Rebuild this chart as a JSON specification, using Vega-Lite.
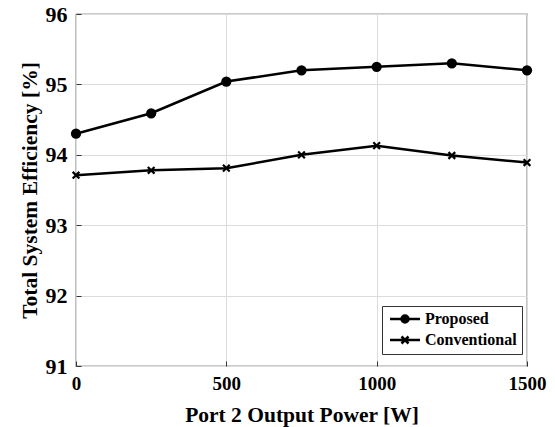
{
  "$schema": "https://vega.github.io/schema/vega-lite/v6.json",
  "width": 451,
  "height": 352,
  "autosize": "none",
  "padding": {"left": 76, "top": 14, "right": 28, "bottom": 61},
  "background": "white",
  "config": {
    "font": "Liberation Serif",
    "view": {"stroke": "#333333", "strokeWidth": 1.2},
    "axis": {
      "grid": true,
      "gridColor": "#dcdcdc",
      "gridWidth": 1,
      "domain": false,
      "ticks": true,
      "tickSize": -5,
      "tickColor": "#333333",
      "tickWidth": 1,
      "labelFont": "Liberation Serif",
      "labelFontWeight": "bold",
      "labelColor": "black",
      "titleFont": "Liberation Serif",
      "titleFontWeight": "bold",
      "titleColor": "black",
      "titleFontSize": 21.5
    }
  },
  "data": {
    "values": [
      {"power": 0, "eff": 94.30, "series": "Proposed"},
      {"power": 250, "eff": 94.59, "series": "Proposed"},
      {"power": 500, "eff": 95.04, "series": "Proposed"},
      {"power": 750, "eff": 95.20, "series": "Proposed"},
      {"power": 1000, "eff": 95.25, "series": "Proposed"},
      {"power": 1250, "eff": 95.30, "series": "Proposed"},
      {"power": 1500, "eff": 95.20, "series": "Proposed"},
      {"power": 0, "eff": 93.71, "series": "Conventional"},
      {"power": 250, "eff": 93.78, "series": "Conventional"},
      {"power": 500, "eff": 93.81, "series": "Conventional"},
      {"power": 750, "eff": 94.00, "series": "Conventional"},
      {"power": 1000, "eff": 94.13, "series": "Conventional"},
      {"power": 1250, "eff": 93.99, "series": "Conventional"},
      {"power": 1500, "eff": 93.89, "series": "Conventional"}
    ]
  },
  "encoding": {
    "x": {
      "field": "power", "type": "quantitative",
      "scale": {"domain": [0, 1500], "nice": false},
      "axis": {"values": [0, 500, 1000, 1500], "format": "d", "title": "Port 2 Output Power [W]", "labelFontSize": 19, "labelPadding": 13, "titlePadding": 11, "labelFlush": false}
    },
    "y": {
      "field": "eff", "type": "quantitative",
      "scale": {"domain": [91, 96], "nice": false, "zero": false},
      "axis": {"values": [91, 92, 93, 94, 95, 96], "title": "Total System Efficiency [%]", "labelFontSize": 22, "labelPadding": 14, "titlePadding": 4, "labelFlush": false}
    }
  },
  "layer": [
    {
      "mark": {"type": "line", "color": "black", "strokeWidth": 2.5},
      "encoding": {"detail": {"field": "series"}}
    },
    {
      "transform": [{"filter": "datum.series == 'Proposed'"}],
      "mark": {"type": "point", "shape": "circle", "filled": true, "color": "black", "size": 105, "opacity": 1}
    },
    {
      "transform": [{"filter": "datum.series == 'Conventional'"}],
      "mark": {"type": "point", "shape": "M-1,-1L1,1M-1,1L1,-1", "filled": false, "color": "black", "strokeWidth": 2.2, "size": 45, "opacity": 1}
    },
    {
      "mark": {"type": "point", "opacity": 0, "filled": false, "color": "black", "strokeWidth": 2.5},
      "encoding": {
        "shape": {
          "field": "series", "type": "nominal",
          "scale": {
            "domain": ["Proposed", "Conventional"],
            "range": [
              "M-1,0H5M1.75,0A0.25,0.25 0 1,0 2.25,0A0.25,0.25 0 1,0 1.75,0M1.5,0A0.5,0.5 0 1,0 2.5,0A0.5,0.5 0 1,0 1.5,0M1.3,0A0.7,0.7 0 1,0 2.7,0A0.7,0.7 0 1,0 1.3,0",
              "M-1,0H5M1.3,-0.7L2.7,0.7M1.3,0.7L2.7,-0.7"
            ]
          },
          "legend": {
            "title": null,
            "orient": "none",
            "legendX": 306,
            "legendY": 292,
            "symbolSize": 100,
            "symbolOpacity": 1,
            "symbolStrokeColor": "black",
            "symbolStrokeWidth": 2.5,
            "labelOffset": 22,
            "labelFont": "Liberation Serif",
            "labelFontWeight": "bold",
            "labelFontSize": 16,
            "labelColor": "black",
            "strokeColor": "#333333",
            "fillColor": "white",
            "padding": 5,
            "rowPadding": 3,
            "cornerRadius": 0
          }
        }
      }
    }
  ]
}
